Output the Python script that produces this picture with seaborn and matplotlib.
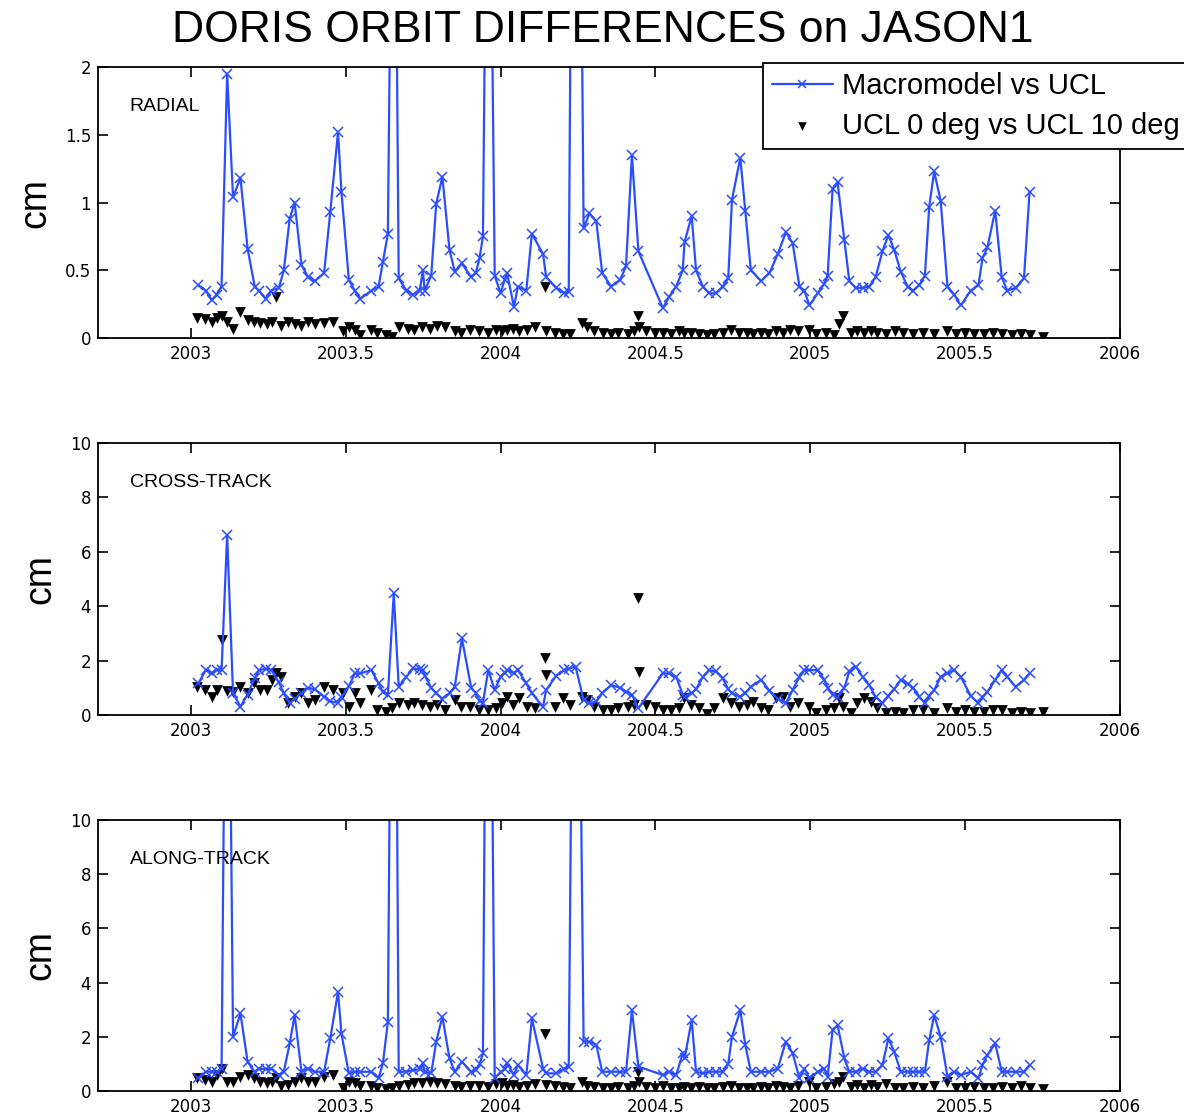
import numpy as np
import pandas as pd
import matplotlib
matplotlib.use('Agg')
import matplotlib.pyplot as plt
import seaborn as sns

# dates of the Macromodel vs UCL comparisons (decimal years)
t_mm = [2003.024, 2003.048, 2003.067, 2003.083, 2003.099, 2003.117, 2003.136, 2003.160, 2003.183, 2003.206,
        2003.220, 2003.241, 2003.260, 2003.284, 2003.300, 2003.319, 2003.335, 2003.357, 2003.378, 2003.400,
        2003.430, 2003.450, 2003.475, 2003.486, 2003.510, 2003.529, 2003.547, 2003.583, 2003.606, 2003.620,
        2003.636, 2003.655, 2003.671, 2003.696, 2003.717, 2003.739, 2003.749, 2003.755, 2003.776, 2003.792,
        2003.812, 2003.835, 2003.852, 2003.875, 2003.905, 2003.920, 2003.932, 2003.943, 2003.960, 2003.981,
        2004.000, 2004.013, 2004.021, 2004.043, 2004.056, 2004.083, 2004.101, 2004.137, 2004.147, 2004.180,
        2004.206, 2004.220, 2004.242, 2004.268, 2004.287, 2004.309, 2004.328, 2004.357, 2004.386, 2004.405,
        2004.424, 2004.445, 2004.524, 2004.543, 2004.567, 2004.588, 2004.594, 2004.617, 2004.631, 2004.653,
        2004.674, 2004.695, 2004.717, 2004.735, 2004.747, 2004.774, 2004.790, 2004.808, 2004.841, 2004.868,
        2004.895, 2004.921, 2004.943, 2004.965, 2004.981, 2004.997, 2005.024, 2005.045, 2005.056, 2005.072,
        2005.088, 2005.110, 2005.126, 2005.147, 2005.169, 2005.190, 2005.211, 2005.233, 2005.252, 2005.271,
        2005.292, 2005.314, 2005.332, 2005.352, 2005.370, 2005.384, 2005.400, 2005.421, 2005.443, 2005.465,
        2005.486, 2005.518, 2005.543, 2005.556, 2005.572, 2005.597, 2005.618, 2005.636, 2005.663, 2005.690,
        2005.708]

radial_mm = [0.39, 0.35, 0.28, 0.32, 0.38, 1.95, 1.04, 1.18, 0.66, 0.38,
             0.35, 0.29, 0.35, 0.37, 0.50, 0.88, 1.00, 0.54, 0.45, 0.42,
             0.48, 0.93, 1.52, 1.08, 0.43, 0.35, 0.29, 0.35, 0.38, 0.56,
             0.77, 5.00, 0.44, 0.35, 0.32, 0.35, 0.50, 0.35, 0.46, 0.99,
             1.19, 0.65, 0.49, 0.55, 0.45, 0.48, 0.59, 0.75, 5.00, 0.46,
             0.33, 0.43, 0.48, 0.23, 0.38, 0.35, 0.77, 0.62, 0.45, 0.37,
             0.33, 0.34, 8.00, 0.81, 0.92, 0.86, 0.48, 0.38, 0.43, 0.53,
             1.35, 0.64, 0.22, 0.30, 0.38, 0.50, 0.71, 0.90, 0.50, 0.38,
             0.33, 0.33, 0.38, 0.44, 1.02, 1.33, 0.94, 0.50, 0.42, 0.48,
             0.62, 0.78, 0.70, 0.38, 0.35, 0.24, 0.33, 0.40, 0.46, 1.10,
             1.15, 0.72, 0.42, 0.37, 0.37, 0.38, 0.45, 0.64, 0.76, 0.65,
             0.49, 0.38, 0.35, 0.39, 0.46, 0.97, 1.23, 1.01, 0.38, 0.32,
             0.24, 0.35, 0.39, 0.59, 0.67, 0.94, 0.45, 0.35, 0.37, 0.44,
             1.08]

cross_mm = [1.16, 1.65, 1.55, 1.65, 1.65, 6.62, 0.80, 0.31, 0.75, 1.35,
            1.65, 1.70, 1.65, 1.20, 0.80, 0.43, 0.60, 0.80, 1.00, 0.95,
            0.67, 0.50, 0.45, 0.65, 1.05, 1.53, 1.53, 1.65, 1.16, 0.85,
            0.74, 4.47, 1.04, 1.41, 1.71, 1.68, 1.65, 1.45, 1.00, 0.80,
            0.60, 0.80, 1.04, 2.82, 1.00, 0.80, 0.50, 0.45, 1.65, 0.92,
            1.41, 1.55, 1.65, 1.55, 1.65, 1.16, 0.80, 0.30, 0.92, 1.45,
            1.65, 1.70, 1.78, 0.55, 0.43, 0.50, 0.80, 1.10, 1.00, 0.85,
            0.74, 0.25, 1.53, 1.53, 1.41, 0.75, 0.67, 0.80, 0.95, 1.40,
            1.65, 1.60, 1.35, 0.95, 0.80, 0.67, 0.80, 1.04, 1.29, 0.90,
            0.60, 0.43, 0.92, 1.40, 1.65, 1.65, 1.65, 1.29, 1.00, 0.75,
            0.67, 1.00, 1.60, 1.78, 1.40, 1.10, 0.67, 0.43, 0.70, 0.95,
            1.29, 1.15, 1.00, 0.67, 0.43, 0.70, 0.92, 1.40, 1.53, 1.65,
            1.40, 0.70, 0.43, 0.65, 0.85, 1.29, 1.65, 1.40, 1.04, 1.29,
            1.53]

along_mm = [0.47, 0.71, 0.71, 0.71, 0.83, 25.0, 2.00, 2.86, 1.08, 0.71,
            0.83, 0.80, 0.83, 0.59, 0.71, 1.76, 2.80, 0.71, 0.83, 0.71,
            0.71, 1.94, 3.66, 2.12, 0.65, 0.71, 0.71, 0.71, 0.47, 1.02,
            2.56, 30.0, 0.71, 0.71, 0.77, 0.80, 1.02, 0.71, 0.65, 1.82,
            2.74, 1.20, 0.71, 1.08, 0.71, 0.77, 1.00, 1.39, 30.0, 0.47,
            0.70, 0.80, 1.02, 0.59, 0.96, 0.59, 2.68, 0.83, 0.65, 0.65,
            0.83, 0.90, 30.0, 1.82, 1.82, 1.70, 0.71, 0.71, 0.71, 0.71,
            2.98, 0.90, 0.59, 0.71, 0.59, 1.39, 1.20, 2.62, 0.71, 0.65,
            0.71, 0.71, 0.71, 1.00, 2.00, 2.98, 1.70, 0.71, 0.71, 0.71,
            0.83, 1.82, 1.39, 0.47, 0.83, 0.47, 0.71, 0.83, 0.53, 2.25,
            2.43, 1.20, 0.71, 0.71, 0.83, 0.71, 0.71, 0.96, 1.94, 1.45,
            0.71, 0.71, 0.71, 0.71, 0.71, 1.88, 2.80, 2.00, 0.53, 0.71,
            0.59, 0.71, 0.47, 0.96, 1.33, 1.76, 0.71, 0.71, 0.71, 0.71,
            0.96]

# dates of the UCL 0 deg vs UCL 10 deg comparisons
t_ucl = [2003.020, 2003.045, 2003.067, 2003.085, 2003.100, 2003.118, 2003.136, 2003.160, 2003.183, 2003.205,
         2003.222, 2003.245, 2003.262, 2003.276, 2003.290, 2003.312, 2003.335, 2003.357, 2003.378, 2003.400,
         2003.430, 2003.460, 2003.490, 2003.512, 2003.530, 2003.547, 2003.580, 2003.600, 2003.630, 2003.650,
         2003.672, 2003.700, 2003.720, 2003.745, 2003.771, 2003.795, 2003.820, 2003.852, 2003.873, 2003.900,
         2003.930, 2003.960, 2003.985, 2004.005, 2004.022, 2004.040, 2004.060, 2004.085, 2004.110, 2004.142,
         2004.147, 2004.175, 2004.200, 2004.225, 2004.262, 2004.280, 2004.300, 2004.330, 2004.355, 2004.380,
         2004.410, 2004.430, 2004.443, 2004.446, 2004.470, 2004.500, 2004.525, 2004.550, 2004.575, 2004.592,
         2004.615, 2004.640, 2004.665, 2004.690, 2004.718, 2004.745, 2004.770, 2004.795, 2004.815, 2004.840,
         2004.865, 2004.890, 2004.912, 2004.935, 2004.960, 2004.997, 2005.020, 2005.050, 2005.075, 2005.092,
         2005.105, 2005.130, 2005.150, 2005.172, 2005.195, 2005.215, 2005.245, 2005.275, 2005.300, 2005.330,
         2005.365, 2005.400, 2005.440, 2005.470, 2005.500, 2005.530, 2005.560, 2005.590, 2005.620, 2005.650,
         2005.680, 2005.710, 2005.750]

radial_ucl = [0.15, 0.14, 0.12, 0.15, 0.16, 0.12, 0.07, 0.19, 0.13, 0.12,
              0.11, 0.10, 0.12, 0.30, 0.09, 0.12, 0.10, 0.09, 0.12, 0.10,
              0.11, 0.12, 0.05, 0.08, 0.06, 0.02, 0.06, 0.04, 0.02, 0.01,
              0.08, 0.07, 0.06, 0.08, 0.07, 0.09, 0.08, 0.05, 0.04, 0.06,
              0.05, 0.04, 0.06, 0.05, 0.06, 0.07, 0.05, 0.06, 0.08, 0.38,
              0.05, 0.04, 0.03, 0.03, 0.11, 0.08, 0.05, 0.04, 0.03, 0.04,
              0.03, 0.05, 0.16, 0.08, 0.05, 0.04, 0.04, 0.03, 0.05, 0.04,
              0.04, 0.03, 0.02, 0.03, 0.04, 0.06, 0.04, 0.04, 0.03, 0.04,
              0.03, 0.05, 0.04, 0.06, 0.05, 0.06, 0.03, 0.04, 0.02, 0.10,
              0.16, 0.04, 0.05, 0.04, 0.05, 0.04, 0.03, 0.05, 0.04, 0.03,
              0.04, 0.03, 0.05, 0.03, 0.04, 0.03, 0.03, 0.04, 0.03, 0.02,
              0.03, 0.02, 0.01]

cross_ucl = [1.04, 0.92, 0.67, 0.92, 2.76, 0.90, 0.86, 1.04, 0.80, 1.16,
             0.92, 0.92, 1.30, 1.53, 1.41, 0.43, 0.67, 0.80, 0.43, 0.55,
             1.04, 0.92, 0.80, 0.31, 0.80, 0.43, 0.92, 0.18, 0.12, 0.25,
             0.43, 0.37, 0.43, 0.37, 0.31, 0.37, 0.18, 0.55, 0.31, 0.31,
             0.18, 0.18, 0.25, 0.43, 0.67, 0.37, 0.61, 0.31, 0.25, 2.09,
             1.47, 0.31, 0.61, 0.37, 0.67, 0.55, 0.31, 0.18, 0.18, 0.25,
             0.31, 0.37, 4.29, 1.59, 0.37, 0.31, 0.18, 0.18, 0.25, 0.61,
             0.37, 0.25, 0.02, 0.25, 0.61, 0.43, 0.31, 0.37, 0.49, 0.25,
             0.18, 0.61, 0.67, 0.31, 0.43, 0.31, 0.06, 0.18, 0.25, 0.61,
             0.31, 0.06, 0.43, 0.61, 0.49, 0.25, 0.06, 0.12, 0.06, 0.18,
             0.18, 0.06, 0.25, 0.12, 0.18, 0.12, 0.12, 0.18, 0.18, 0.06,
             0.10, 0.08, 0.12]

along_ucl = [0.47, 0.41, 0.35, 0.59, 0.83, 0.35, 0.35, 0.53, 0.59, 0.47,
             0.35, 0.29, 0.35, 0.47, 0.17, 0.23, 0.35, 0.47, 0.35, 0.35,
             0.53, 0.59, 0.12, 0.35, 0.29, 0.17, 0.17, 0.12, 0.06, 0.10,
             0.17, 0.23, 0.29, 0.29, 0.35, 0.29, 0.25, 0.20, 0.15, 0.18,
             0.20, 0.15, 0.25, 0.30, 0.18, 0.22, 0.15, 0.20, 0.25, 2.10,
             0.23, 0.18, 0.15, 0.12, 0.35, 0.20, 0.15, 0.12, 0.10, 0.15,
             0.12, 0.18, 0.71, 0.35, 0.15, 0.12, 0.18, 0.12, 0.10, 0.15,
             0.12, 0.15, 0.10, 0.12, 0.15, 0.18, 0.12, 0.10, 0.12, 0.15,
             0.12, 0.18, 0.15, 0.12, 0.20, 0.35, 0.12, 0.15, 0.25, 0.35,
             0.53, 0.15, 0.23, 0.12, 0.23, 0.15, 0.25, 0.12, 0.10, 0.15,
             0.12, 0.18, 0.35, 0.12, 0.10, 0.15, 0.12, 0.10, 0.15, 0.12,
             0.20, 0.10, 0.06]

panel_names = ['RADIAL', 'CROSS-TRACK', 'ALONG-TRACK']
y_limits = [(0, 2), (0, 10), (0, 10)]
y_ticks = [[0, 0.5, 1, 1.5, 2], [0, 2, 4, 6, 8, 10], [0, 2, 4, 6, 8, 10]]
y_ticklabels = [['0', '0.5', '1', '1.5', '2'], ['0', '2', '4', '6', '8', '10'], ['0', '2', '4', '6', '8', '10']]
x_ticks = [2003, 2003.5, 2004, 2004.5, 2005, 2005.5, 2006]
x_ticklabels = ['2003', '2003.5', '2004', '2004.5', '2005', '2005.5', '2006']

mm = pd.DataFrame({'t': t_mm, 'RADIAL': radial_mm, 'CROSS-TRACK': cross_mm, 'ALONG-TRACK': along_mm})
ucl = pd.DataFrame({'t': t_ucl, 'RADIAL': radial_ucl, 'CROSS-TRACK': cross_ucl, 'ALONG-TRACK': along_ucl})

sns.set_style('ticks')
plt.rcParams['font.family'] = ['DejaVu Sans']
plt.rcParams['text.color'] = 'black'
plt.rcParams['axes.labelcolor'] = 'black'
plt.rcParams['xtick.color'] = 'black'
plt.rcParams['ytick.color'] = 'black'
plt.rcParams['xtick.direction'] = 'in'
plt.rcParams['ytick.direction'] = 'in'

blue = '#2a4dff'
sans = ['Liberation Sans', 'DejaVu Sans']
W, H = 1184, 1117
fig = plt.figure(figsize=(W / 100, H / 100), dpi=100)
fig.patch.set_facecolor('white')

# pixel boxes of the three axes: left, top, right, bottom
boxes = [(98, 67, 1120, 338), (98, 443, 1120, 715), (98, 820, 1120, 1091)]
axes = []
for (l, t, r, b) in boxes:
    axes.append(fig.add_axes([l / W, 1 - b / H, (r - l) / W, (b - t) / H]))

for i, ax in enumerate(axes):
    name = panel_names[i]
    sns.lineplot(data=mm, x='t', y=name, ax=ax, color=blue, lw=1.6, marker='x',
                 markersize=7.5, markeredgewidth=1.1, markeredgecolor=blue, sort=False,
                 label='Macromodel vs UCL', legend=False)
    sns.scatterplot(data=ucl, x='t', y=name, ax=ax, color='black', marker='v', s=60,
                    linewidth=0, label='UCL 0 deg vs UCL 10 deg', legend=False)
    ax.set_xlim(2002.7, 2006)
    ax.set_ylim(*y_limits[i])
    ax.set_xticks(x_ticks)
    ax.set_xticklabels(x_ticklabels)
    ax.set_yticks(y_ticks[i])
    ax.set_yticklabels(y_ticklabels[i])
    ax.tick_params(axis='both', which='both', direction='in', length=7, width=1.2,
                   top=True, right=True, labelsize=12, pad=5, colors='black')
    for sp in ax.spines.values():
        sp.set_visible(True)
        sp.set_linewidth(1.3)
        sp.set_color('black')
    ax.set_xlabel('')
    ax.set_ylabel('cm', fontsize=27, family=sans, labelpad=8)
    ax.text(0.031, 0.855, name, transform=ax.transAxes, fontsize=14,
            family=sans, va='center', ha='left', color='black')

handles, labels = axes[0].get_legend_handles_labels()
leg = fig.legend(handles, labels, loc='upper left', bbox_to_anchor=(763 / W, 1 - 63 / H),
                 bbox_transform=fig.transFigure, frameon=True, fancybox=False,
                 prop={'family': sans, 'size': 21},
                 handlelength=2.1, handletextpad=0.3, borderpad=0.3, labelspacing=0.42,
                 borderaxespad=0, markerscale=0.8)
leg.get_frame().set_edgecolor('black')
leg.get_frame().set_linewidth(1.3)
leg.get_frame().set_facecolor('white')
leg.get_frame().set_alpha(1)

fig.text(603 / W, 1 - 30 / H, 'DORIS ORBIT DIFFERENCES on JASON1', ha='center', va='center',
         fontsize=32, family=sans, color='black')

fig.savefig('out.png', dpi=100)
